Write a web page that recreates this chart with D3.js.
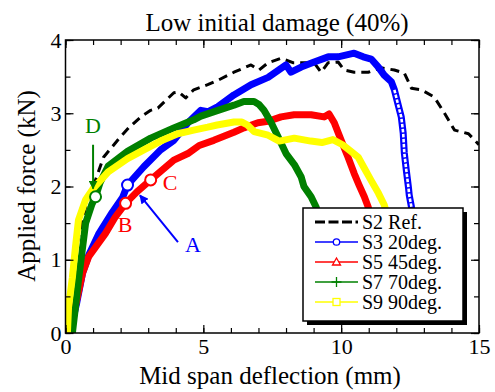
<!DOCTYPE html>
<html>
<head>
<meta charset="utf-8">
<script src="https://cdn.jsdelivr.net/npm/d3@7/dist/d3.min.js"></script>
<style>
body{margin:0;background:#fff;}
text{font-family:"Liberation Serif","Times New Roman",serif;fill:#000;}
</style>
</head>
<body>
<svg id="myGraph" width="495" height="392"></svg>
<script>
// 각 시험체의 하중-처짐 곡선 (x: mm, y: kN), 그림에서 읽은 값
var s2Ref = [[0,0],[0.35,1.1],[0.75,1.75],[1.09,2.09],[1.38,2.40],[2.0,2.68],[2.29,2.80],[2.73,2.95],[3.09,3.04],[3.35,3.07],[3.93,3.28],[4.11,3.29],[4.36,3.21],[4.65,3.32],[5.16,3.39],[5.53,3.45],[6.11,3.56],[6.73,3.66],[7.02,3.59],[7.35,3.69],[7.82,3.75],[8.25,3.69],[8.65,3.69],[9.02,3.69],[9.27,3.56],[9.53,3.69],[9.89,3.70],[10.11,3.59],[10.47,3.56],[10.98,3.56],[11.45,3.62],[11.93,3.59],[12.29,3.55],[12.55,3.34],[12.91,3.32],[13.38,3.22],[13.75,3.00],[14.11,2.77],[14.62,2.72],[15.0,2.57]];
var s3Deg20 = [[0.15,0],[0.4,0.4],[0.62,0.82],[0.84,1.06],[1.2,1.35],[1.7,1.65],[2.07,1.85],[2.25,2.02],[2.84,2.27],[3.45,2.50],[3.93,2.63],[4.44,2.87],[4.91,3.04],[5.16,3.02],[5.53,3.09],[6.11,3.25],[6.73,3.39],[7.35,3.49],[8.0,3.66],[8.18,3.56],[8.55,3.63],[9.02,3.70],[9.53,3.77],[9.89,3.77],[10.47,3.82],[10.8,3.77],[11.09,3.74],[11.35,3.63],[11.56,3.52],[11.82,3.43],[11.93,3.32],[12.07,3.11],[12.18,2.95],[12.25,2.73],[12.29,2.46],[12.36,2.23],[12.44,1.99],[12.47,1.88],[12.55,1.72],[12.62,1.47],[12.7,1.2]];
var s5Deg45 = [[0.15,0],[0.35,0.35],[0.62,0.82],[0.84,1.04],[1.45,1.36],[1.8,1.58],[2.18,1.77],[2.6,1.93],[3.09,2.09],[3.93,2.36],[4.44,2.45],[4.85,2.56],[5.38,2.63],[6.11,2.74],[6.47,2.80],[6.98,2.87],[7.35,2.89],[7.82,2.95],[8.29,2.98],[8.91,2.98],[9.38,2.95],[9.56,2.99],[9.75,2.87],[10.0,2.63],[10.25,2.40],[10.47,2.18],[10.65,2.02],[10.84,1.86],[10.98,1.72],[11.16,1.47],[11.35,1.2]];
var s7Deg70 = [[0.25,0],[0.36,0.35],[0.47,0.72],[0.62,1.17],[0.73,1.50],[0.95,1.75],[1.09,1.86],[1.25,2.05],[1.55,2.28],[2.25,2.48],[3.09,2.66],[3.93,2.80],[4.65,2.91],[4.91,2.96],[5.53,3.04],[6.11,3.11],[6.47,3.16],[6.84,3.16],[7.02,3.12],[7.2,3.04],[7.45,2.88],[7.71,2.68],[8.0,2.45],[8.3,2.30],[8.55,2.13],[8.65,2.00],[8.91,1.86],[9.09,1.72],[9.3,1.45]];
var s9Deg90 = [[0.07,0],[0.11,0.35],[0.25,0.76],[0.36,1.17],[0.47,1.54],[0.73,1.82],[1.0,1.97],[1.55,2.20],[2.25,2.38],[2.84,2.50],[3.45,2.62],[4.07,2.72],[4.65,2.77],[5.16,2.81],[5.5,2.84],[6.11,2.88],[6.4,2.88],[6.6,2.84],[6.84,2.75],[7.35,2.70],[7.75,2.62],[8.3,2.66],[8.9,2.62],[9.3,2.60],[9.7,2.64],[10.05,2.57],[10.35,2.48],[10.62,2.40],[10.84,2.25],[11.09,2.08],[11.35,1.91],[11.56,1.75],[11.75,1.5]];

var seriesNames = ["S2 Ref.","S3 20deg.","S5 45deg.","S7 70deg.","S9 90deg."];
var seriesColors = ["#000000","#0000ff","#ff0000","#008000","#ffff00"];
var seriesMarkers = ["none","circle","triangle","plus","square"];

var xTicks = [0,5,10,15];
var yTicks = [0,1,2,3,4];

// 초기 균열 점 A~D (x, y) 와 라벨
var pointNames = ["A","B","C","D"];
var pointXY = [[2.25,2.02],[2.18,1.77],[3.09,2.09],[1.09,1.86]];
var pointColors = ["#0000ff","#ff0000","#ff0000","#008000"];
var labelXY = [[4.62,1.10],[2.16,1.38],[3.79,1.95],[1.0,2.73]];
var arrowFrom = [[4.08,1.24],null,null,[1.0,2.57]];
var arrowTo = [[2.70,1.88],null,null,[1.0,1.97]];

var svg = d3.select("#myGraph");
var mLeft = 65.5, mRight = 479, mTop = 40, mBottom = 333;

var x = d3.scaleLinear().domain([0,15]).range([mLeft,mRight]);
var y = d3.scaleLinear().domain([0,4]).range([mBottom,mTop]);

var data = [s2Ref,s3Deg20,s5Deg45,s7Deg70,s9Deg90];
var line = d3.line().x(function(d){return x(d[0]);}).y(function(d){return y(d[1]);});

svg.append("clipPath").attr("id","clip").append("rect")
	.attr("x",mLeft).attr("y",mTop).attr("width",mRight-mLeft).attr("height",mBottom-mTop);
var curves = svg.append("g").attr("clip-path","url(#clip)");

data.forEach(function(d,i){
	var p = curves.append("path").datum(d).attr("d",line)
		.attr("fill","none").attr("stroke",seriesColors[i])
		.attr("stroke-linejoin","round");
	if(i==0){
		p.attr("stroke-width",3).attr("stroke-dasharray","9,6");
	}else{
		p.attr("stroke-width",7).attr("stroke-linecap","round");
	}
});
// 20deg 하강부: 원 마커가 보이는 부분
curves.append("path").datum(s3Deg20.filter(function(d){return d[0]>=11.9;}))
	.attr("d",line).attr("fill","none").attr("stroke","#fff")
	.attr("stroke-width",2.6).attr("stroke-dasharray","3.5,1.5");

// 축 (눈금 안쪽)
function minor(n,step){ return d3.range(0,n+0.001,step); }
var xMinor = minor(15,1), yMinor = minor(4,0.5);
var axes = svg.append("g");

axes.append("g").attr("transform","translate(0,"+mBottom+")")
	.call(d3.axisBottom(x).tickValues(xMinor).tickSize(-5).tickFormat(""));
axes.append("g").attr("transform","translate(0,"+mBottom+")")
	.call(d3.axisBottom(x).tickValues(xTicks).tickSize(-8).tickPadding(5).tickFormat(d3.format("d")));
axes.append("g").attr("transform","translate(0,"+mTop+")")
	.call(d3.axisTop(x).tickValues(xMinor).tickSize(-5).tickFormat(""));
axes.append("g").attr("transform","translate(0,"+mTop+")")
	.call(d3.axisTop(x).tickValues(xTicks).tickSize(-8).tickFormat(""));
axes.append("g").attr("transform","translate("+mLeft+",0)")
	.call(d3.axisLeft(y).tickValues(yMinor).tickSize(-5).tickFormat(""));
axes.append("g").attr("transform","translate("+mLeft+",0)")
	.call(d3.axisLeft(y).tickValues(yTicks).tickSize(-8).tickPadding(4).tickFormat(d3.format("d")));
axes.append("g").attr("transform","translate("+mRight+",0)")
	.call(d3.axisRight(y).tickValues(yMinor).tickSize(-5).tickFormat(""));
axes.append("g").attr("transform","translate("+mRight+",0)")
	.call(d3.axisRight(y).tickValues(yTicks).tickSize(-8).tickFormat(""));
axes.selectAll(".domain").remove();
axes.selectAll("g").attr("font-family","Liberation Serif").attr("font-size",22);
axes.selectAll(".tick line").attr("stroke","#000").attr("stroke-width",1.2);
axes.selectAll("text").attr("fill","#000");
svg.append("rect").attr("x",mLeft).attr("y",mTop).attr("width",mRight-mLeft).attr("height",mBottom-mTop)
	.attr("fill","none").attr("stroke","#000").attr("stroke-width",1.5);

// 초기 균열 점과 화살표
svg.append("defs").selectAll("marker").data(pointColors).enter().append("marker")
	.attr("id",function(d,i){return "ah"+i;})
	.attr("viewBox","0 0 10 10").attr("refX",9).attr("refY",5)
	.attr("markerWidth",9).attr("markerHeight",9).attr("markerUnits","userSpaceOnUse")
	.attr("orient","auto")
	.append("path").attr("d","M0,0L10,5L0,10z").attr("fill",function(d){return d;});

pointNames.forEach(function(n,i){
	if(arrowFrom[i]){
		svg.append("line")
			.attr("x1",x(arrowFrom[i][0])).attr("y1",y(arrowFrom[i][1]))
			.attr("x2",x(arrowTo[i][0])).attr("y2",y(arrowTo[i][1]))
			.attr("stroke",pointColors[i]).attr("stroke-width",2)
			.attr("marker-end","url(#ah"+i+")");
	}
	svg.append("circle").attr("cx",x(pointXY[i][0])).attr("cy",y(pointXY[i][1])).attr("r",5.5)
		.attr("fill","#fff").attr("stroke",pointColors[i]).attr("stroke-width",2);
	svg.append("text").attr("x",x(labelXY[i][0])).attr("y",y(labelXY[i][1]))
		.attr("text-anchor","middle").attr("font-size",22)
		.style("fill",pointColors[i]).text(n);
});

// 범례
var lg = svg.append("g").attr("transform","translate(303,208)");
lg.append("rect").attr("x",4).attr("y",4).attr("width",160).attr("height",113).attr("fill","#000");
lg.append("rect").attr("width",160).attr("height",113).attr("fill","#fff").attr("stroke","#000").attr("stroke-width",1.5);
seriesNames.forEach(function(n,i){
	var ry = 14 + i*20;
	var c = seriesColors[i];
	var ln = lg.append("line").attr("x1",12).attr("x2",55).attr("y1",ry).attr("y2",ry).attr("stroke",c);
	if(i==0) ln.attr("stroke-width",3).attr("stroke-dasharray","10,3.5");
	else ln.attr("stroke-width",1.5);
	var m = seriesMarkers[i];
	if(m=="circle") lg.append("circle").attr("cx",33.5).attr("cy",ry).attr("r",3.2).attr("fill","#fff").attr("stroke",c).attr("stroke-width",1.3);
	if(m=="triangle") lg.append("path").attr("d","M33.5,"+(ry-4)+"L37.5,"+(ry+3)+"L29.5,"+(ry+3)+"Z").attr("fill","#fff").attr("stroke",c).attr("stroke-width",1.3);
	if(m=="plus") lg.append("path").attr("d","M33.5,"+(ry-5)+"V"+(ry+5)+"M28.5,"+ry+"H38.5").attr("stroke",c).attr("stroke-width",1.3);
	if(m=="square") lg.append("rect").attr("x",30).attr("y",ry-3.5).attr("width",7).attr("height",7).attr("fill","#fff").attr("stroke",c).attr("stroke-width",1.3);
	lg.append("text").attr("x",59).attr("y",ry+7).attr("font-size",20).text(n);
});

// 제목
svg.append("text").attr("x",277).attr("y",31).attr("text-anchor","middle").attr("font-size",25)
	.text("Low initial damage (40%)");
svg.append("text").attr("x",270).attr("y",384).attr("text-anchor","middle").attr("font-size",25)
	.text("Mid span deflection (mm)");
svg.append("text").attr("transform","translate(35,186) rotate(-90)").attr("text-anchor","middle").attr("font-size",25)
	.text("Applied force (kN)");
</script>
</body>
</html>
